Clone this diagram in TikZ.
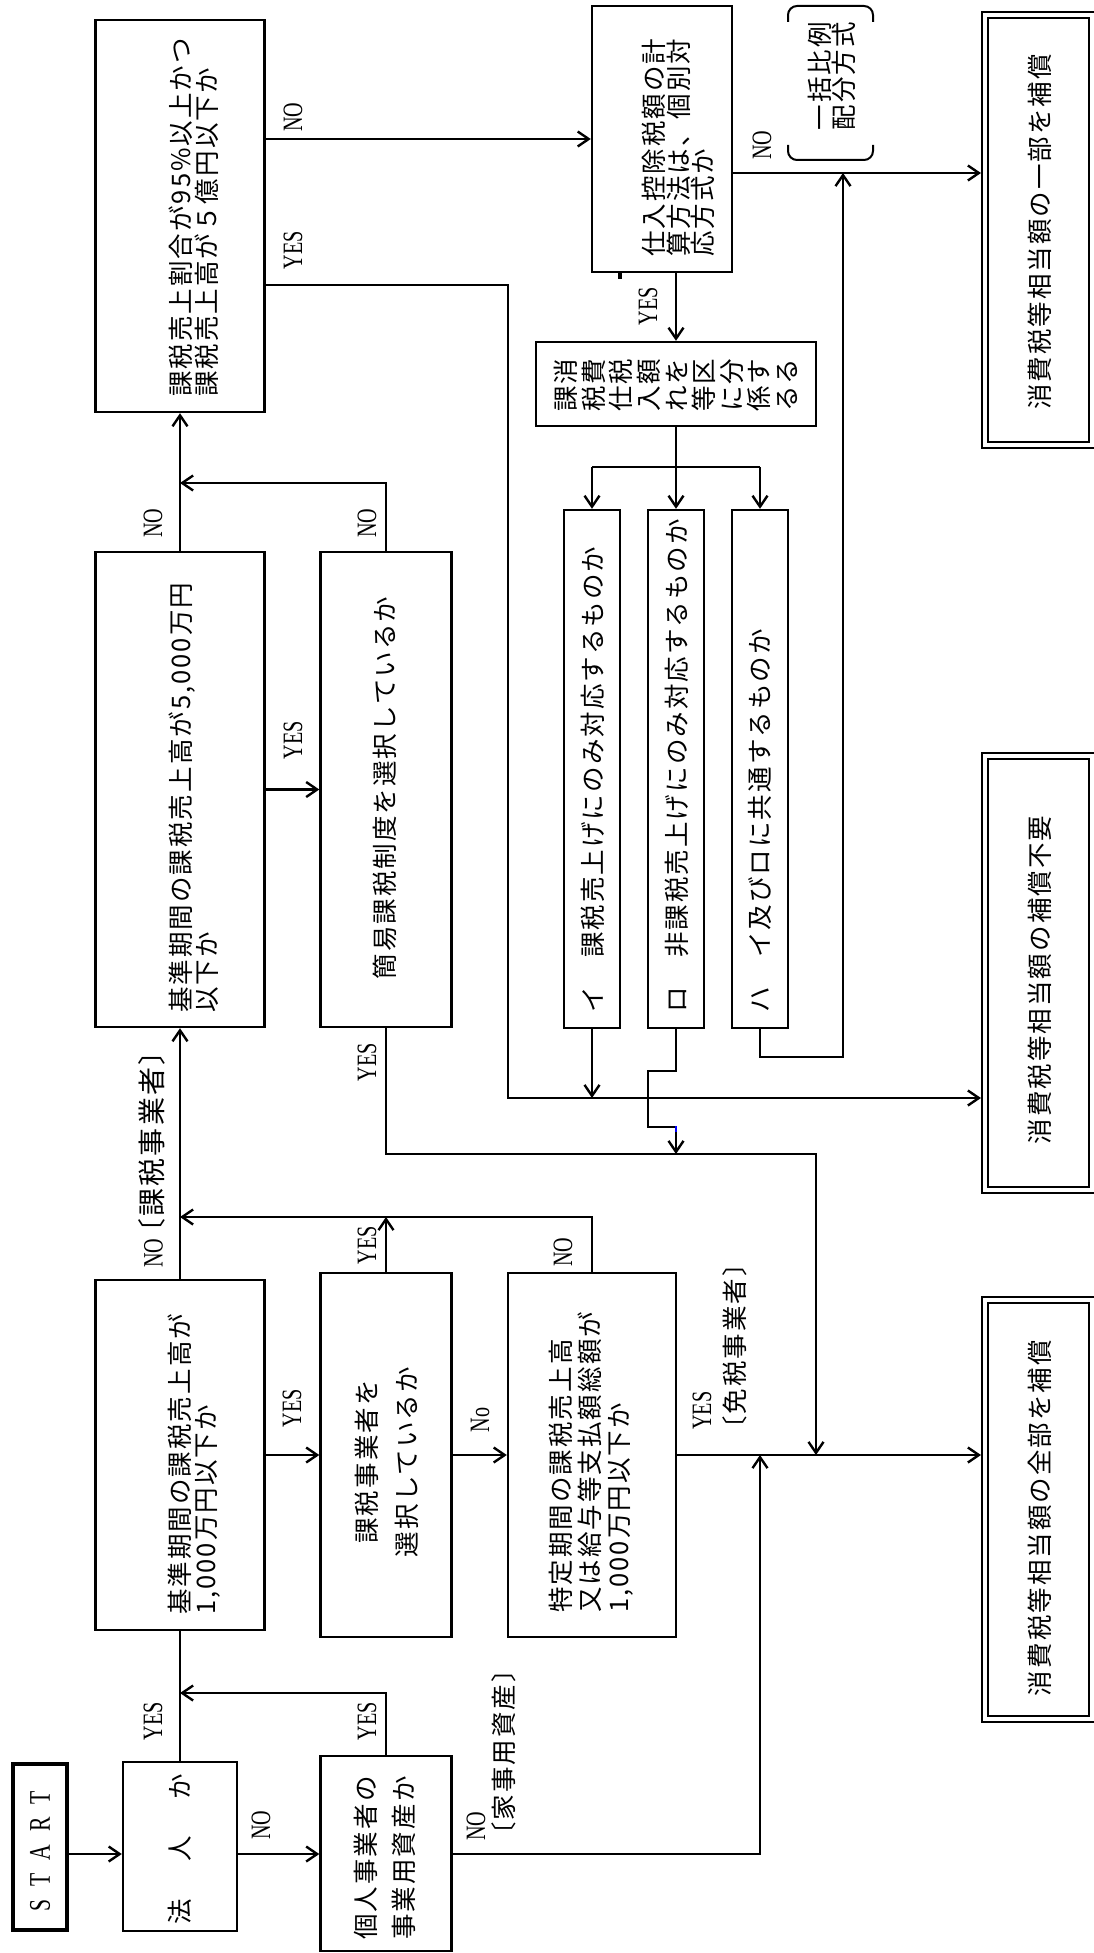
\documentclass[tikz,border=0pt]{standalone}
\usepackage{fontspec}
\newfontfamily\jp[LetterSpace=8]{Noto Sans CJK JP}
\newfontfamily\lat[FakeStretch=0.72]{Liberation Serif}
\usetikzlibrary{arrows.meta}
\newcommand\lbk{\hspace{-12pt}〔}
\newcommand\rbk{〕\hspace{-12pt}}
\begin{document}
\begin{tikzpicture}[x=1pt,y=-1pt,
  box/.style={draw,line width=2.4pt,inner sep=0pt,outer sep=1.2pt},
  dbox/.style={draw,line width=2pt,double,double distance=3.4pt,inner sep=0pt,outer sep=4pt},
  ln/.style={line width=2.4pt},
  arr/.style={ln,-{Straight Barb[length=11pt,width=15pt]}},
  jt/.style={font=\jp\fontsize{25.5}{#1}\selectfont,rotate=90,inner sep=0pt},
  jt/.default=26,
  lt/.style={font=\lat\fontsize{28}{30}\selectfont,rotate=90,inner sep=0pt}]
\useasboundingbox (0,0) rectangle (1094,1953);
\fill[white] (0,0) rectangle (1094,1953);

% boxes
\node[box,line width=4.4pt,outer sep=2.2pt,minimum width=54pt,minimum height=166pt] (start) at (40,1847) {};
\node[box,minimum width=114pt,minimum height=169pt] (houjin) at (180,1846.5) {};
\node[box,minimum width=131pt,minimum height=195pt] (kojin) at (386,1853.5) {};
\node[box,minimum width=169pt,minimum height=350pt] (k1000) at (180,1455) {};
\node[box,minimum width=131pt,minimum height=364pt] (kazei) at (386,1455) {};
\node[box,minimum width=168pt,minimum height=364pt] (tokutei) at (592,1455) {};
\node[box,minimum width=169pt,minimum height=475pt] (k5000) at (180,789.5) {};
\node[box,minimum width=131pt,minimum height=475pt] (kani) at (386,789.5) {};
\node[box,minimum width=169pt,minimum height=392pt] (wariai) at (180,216) {};
\node[box,minimum width=140pt,minimum height=266pt] (shiire) at (662,139) {};
\node[box,minimum width=280pt,minimum height=84pt] (kakubun) at (676,384) {};
\node[box,minimum width=56pt,minimum height=518pt] (boxI) at (592,769) {};
\node[box,minimum width=56pt,minimum height=518pt] (boxRo) at (676,769) {};
\node[box,minimum width=56pt,minimum height=518pt] (boxHa) at (760,769) {};
\node[dbox,minimum width=107pt,minimum height=430pt] (ichibu) at (1038.5,230) {};
\node[dbox,minimum width=107pt,minimum height=434pt] (fuyou) at (1038.5,973) {};
\node[dbox,minimum width=107pt,minimum height=419pt] (zenbu) at (1038.5,1509.5) {};

% helper coordinates
\coordinate (r1854) at (0,1854);
\coordinate (r285) at (0,285);
\coordinate (j4) at (180,1693);
\coordinate (j5) at (760,1455);
\coordinate (j9) at (180,1217);
\coordinate (j12) at (180,483);
\coordinate (j15) at (816,1154);
\coordinate (j17) at (508,1098);
\coordinate (j19) at (676,467);
\coordinate (j22) at (843,173);

% connectors
\draw[arr] (start.east|-r1854) -- (houjin.west|-r1854);
\draw[arr] (houjin.east|-r1854) -- (kojin.west|-r1854);
\draw[ln] (houjin.north) -- (k1000.south);
\draw[arr] (kojin.north) |- (j4);
\draw[arr] (kojin.east|-r1854) -| (j5);
\draw[arr] (k1000.east) -- (kazei.west);
\draw[arr] (kazei.east) -- (tokutei.west);
\draw[arr] (tokutei.east) -- (zenbu.west|-tokutei.east);
\draw[arr] (tokutei.north) |- (j9);
\draw[arr] (kazei.north) -- (kazei.north|-j9);
\draw[arr] (k1000.north) -- (k5000.south);
\draw[arr] (kani.north) |- (j12);
\draw[arr] (k5000.north) -- (wariai.south);
\draw[arr] (k5000.east) -- (kani.west);
\draw[arr] (kani.south) |- (j15) -- (j15|-tokutei.east);
\draw[arr] (wariai.east|-shiire.west) -- (shiire.west);
\draw[arr] (wariai.east|-r285) -| (j17) -- (fuyou.west|-j17);
\draw[arr] (kakubun.north|-shiire.south) -- (kakubun.north);
\draw[ln] (kakubun.south) -- (j19);
\draw[ln] (j19-|boxI.north) -- (j19-|boxHa.north);
\draw[arr] (j19-|boxI.north) -- (boxI.north);
\draw[arr] (j19) -- (boxRo.north);
\draw[arr] (j19-|boxHa.north) -- (boxHa.north);
\draw[arr] (boxI.south) -- (boxI.south|-j17);
\draw[arr] (boxRo.south) -- ++(0,42) -- ++(-28,0) -- ++(0,56) -- ++(28,0) -- (boxRo.south|-j15);
\draw[arr] (boxHa.south) -- ++(0,28) -| (j22);
\draw[arr] (shiire.east|-j22) -- (ichibu.west|-j22);

% small marks
\draw[line width=3.5pt] (620,272) -- (620,279);
\draw[line width=2.4pt,blue] (676,1126) -- (676,1132);

% brackets
\draw[line width=2pt,rounded corners=9pt] (788,22) -- (788,6) -- (873,6) -- (873,22);
\draw[line width=2pt,rounded corners=9pt] (788,145) -- (788,160) -- (873,160) -- (873,145);

% box texts
\node[lt,font=\lat\fontsize{30}{32}\selectfont] (tstart) at (40,1851) {S\hspace{13pt}T\hspace{13pt}A\hspace{13pt}R\hspace{13pt}T};
\node[jt] (thoujin) at (180,1849) {法\hspace{37pt}人\hspace{37pt}か};
\node[jt=38,align=left] (tkojin) at (385,1858) {個人事業者の\\事業用資産か};
\node[jt,align=left,anchor=north west] (tk1000) at (168,1615) {基準期間の課税売上高が\\1,000万円以下か};
\node[jt=40,align=center] (tkazei) at (387,1462) {課税事業者を\\選択しているか};
\node[jt=29,align=left,anchor=north west] (ttokutei) at (549,1613) {特定期間の課税売上高\\又は給与等支払額総額が\\1,000万円以下か};
\node[jt,align=left,anchor=north west] (tk5000) at (169,1013) {基準期間の課税売上高が5,000万円\\以下か};
\node[jt] (tkani) at (385,788) {簡易課税制度を選択しているか};
\node[jt,align=left,anchor=north west] (twariai) at (169,397) {課税売上割合が95\%以上かつ\\課税売上高が５億円以下か};
\node[jt=24.5,align=left,anchor=north west] (tshiire) at (642,257) {仕入控除税額の計\\算方法は、個別対\\応方式か};
\node[jt=27.6,align=center] (tkakubun) at (676,385) {課消\\税費\\仕税\\入額\\れを\\等区\\に分\\係す\\るる};
\node[jt,anchor=west] (tI) at (593,1013) {イ　課税売上げにのみ対応するものか};
\node[jt,anchor=west] (tRo) at (677,1013) {ロ　非課税売上げにのみ対応するものか};
\node[jt,anchor=west] (tHa) at (760,1013) {ハ　イ及びロに共通するものか};
\node[jt] (tichibu) at (1040,232) {消費税等相当額の一部を補償};
\node[jt] (tfuyou) at (1040,980) {消費税等相当額の補償不要};
\node[jt] (tzenbu) at (1040,1518) {消費税等相当額の全部を補償};
\node[jt=24,align=center] (tikkatsu) at (832,76) {一括比例\\配分方式};

% labels
\node[lt] (lno2) at (261,1825) {NO};
\node[lt] (lyes3) at (153,1721) {YES};
\node[lt] (lyes4) at (367,1721) {YES};
\node[lt] (lno5) at (476,1826) {NO};
\node[jt,anchor=west] (lkaji) at (504,1836) {\lbk 家事用資産\rbk};
\node[lt] (lyes6) at (292,1408) {YES};
\node[lt] (lno7) at (480,1420) {No};
\node[lt,anchor=west] (lyes8) at (702,1430) {YES};
\node[jt,anchor=west] (lmenzei) at (735,1430) {\lbk 免税事業者\rbk};
\node[lt] (lno9) at (563,1252) {NO};
\node[lt] (lyes10) at (367,1245) {YES};
\node[lt,anchor=west] (lno11) at (152,1268) {NO\hspace{4pt}{\jp\lbk 課税事業者\rbk}};
\node[lt] (lno12) at (367,523) {NO};
\node[lt] (lno13) at (153,523) {NO};
\node[lt] (lyes14) at (293,740) {YES};
\node[lt] (lyes15) at (367,1062) {YES};
\node[lt] (lno16) at (293,117) {NO};
\node[lt] (lyes17) at (293,250) {YES};
\node[lt] (lyes18) at (648,306) {YES};
\node[lt] (lno23) at (762,145) {NO};
\end{tikzpicture}
\end{document}
